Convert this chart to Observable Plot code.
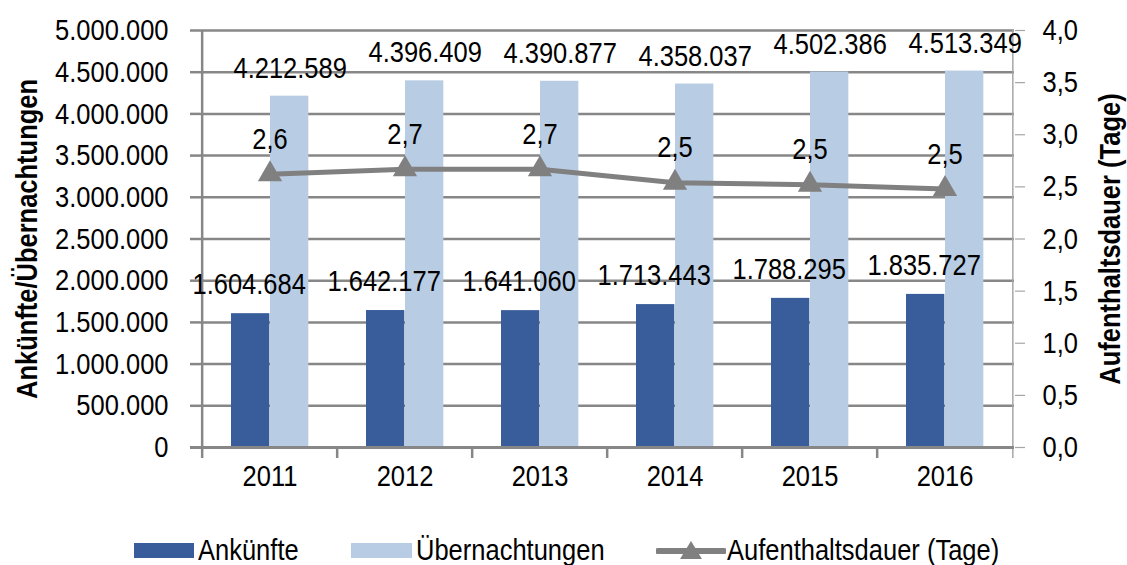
<!DOCTYPE html>
<html><head><meta charset="utf-8">
<script src="https://cdn.jsdelivr.net/npm/d3@7"></script>
<script src="https://cdn.jsdelivr.net/npm/@observablehq/plot@0.6"></script>
<style>
body{margin:0;background:#fff;font-family:"Liberation Sans",Arial,sans-serif;color:#000;}
#legend{position:relative;width:1127px;height:45px;font-size:30px;}
#legend .sw{position:absolute;top:23px;height:15px;}
#legend .tx{position:absolute;top:12px;line-height:36px;white-space:nowrap;transform:scaleX(0.85);transform-origin:0 50%;}
</style></head><body>
<div id="chart"></div>
<div id="legend"></div>
<script>
const years = ["2011", "2012", "2013", "2014", "2015", "2016"];
const ankuenfte = [1604684, 1642177, 1641060, 1713443, 1788295, 1835727];
const uebernachtungen = [4212589, 4396409, 4390877, 4358037, 4502386, 4513349];
const dauer = [2.62, 2.67, 2.67, 2.54, 2.52, 2.48];
const dauerLabels = ["2,6", "2,7", "2,7", "2,5", "2,5", "2,5"];
const leftTicks = [0, 500000, 1000000, 1500000, 2000000, 2500000, 3000000, 3500000, 4000000, 4500000, 5000000];
const rightTicks = [0, 0.5, 1.0, 1.5, 2.0, 2.5, 3.0, 3.5, 4.0];
const seriesNames = ["Ankünfte", "Übernachtungen", "Aufenthaltsdauer (Tage)"];
const yTitleLeft = "Ankünfte/Übernachtungen";
const yTitleRight = "Aufenthaltsdauer (Tage)";

const darkBlue = "#385D9A", lightBlue = "#B8CCE4", lineGray = "#808080", gridGray = "#878787";
const ratio = 5000000 / 4;
const fmt = n => d3.format(",")(n).replace(/,/g, ".");
const W = 1127, H = 520, mL = 200, mR = 113, mT = 30, mB = 73;
const bw = (W - mL - mR) / years.length;

const rows = years.map((y, i) => ({year: y, a: ankuenfte[i], u: uebernachtungen[i], d: dauer[i] * ratio, dl: dauerLabels[i]}));

const plot = Plot.plot({
  width: W, height: H,
  marginLeft: mL, marginRight: mR, marginTop: mT, marginBottom: mB,
  style: {fontFamily: '"Liberation Sans",Arial,sans-serif', fontSize: "30px", color: "#000", background: "#fff", overflow: "visible"},
  x: {domain: years, padding: 0, axis: null},
  y: {domain: [0, 5000000], axis: null},
  marks: [
    Plot.gridY(leftTicks, {stroke: gridGray, strokeOpacity: 1, strokeWidth: 2.5}),
    Plot.axisY(leftTicks, {anchor: "left", tickSize: 10, tickPadding: 22, tickFormat: fmt, stroke: gridGray, strokeWidth: 2.5, fontSize: 30, fill: "#000"}),
    Plot.axisY(rightTicks.map(v => v * ratio), {anchor: "right", tickSize: 10, tickPadding: 18, tickFormat: d => (d / ratio).toFixed(1).replace(".", ","), stroke: "#A6A6A6", strokeWidth: 1.2, fontSize: 30, fill: "#000"}),
    Plot.ruleX([years[0]], {dx: -bw / 2, insetBottom: -11, stroke: gridGray, strokeWidth: 2.5}),
    Plot.ruleX([years[years.length - 1]], {dx: bw / 2, insetBottom: -11, stroke: "#A6A6A6", strokeWidth: 1.5}),
    Plot.ruleX(years.slice(1), {dx: -bw / 2, y1: 0, y2: 0, insetBottom: -11, stroke: gridGray, strokeWidth: 2.5}),
    Plot.barY(rows, {x: "year", y: "a", fill: darkBlue, insetLeft: 29, insetRight: bw - 68}),
    Plot.barY(rows, {x: "year", y: "u", fill: lightBlue, insetLeft: 68, insetRight: bw - 107, ariaLabel: "ueb-bars"}),
    Plot.ruleY([0], {stroke: gridGray, strokeWidth: 3, insetLeft: -10}),
    Plot.line(rows, {x: "year", y: "d", stroke: lineGray, strokeWidth: 5}),
    Plot.dot(rows, {x: "year", y: "d", symbol: "triangle", r: 9, fill: lineGray, stroke: null}),
    Plot.text(rows, {x: "year", y: "a", text: d => fmt(d.a), dx: 47 - bw / 2, dy: -29, fontSize: 30, fill: "#000"}),
    Plot.text(rows, {x: "year", y: "u", text: d => fmt(d.u), dx: 88 - bw / 2, dy: -28, fontSize: 30, fill: "#000"}),
    Plot.text(rows, {x: "year", y: "d", text: "dl", dy: -35, fontSize: 30, fill: "#000"}),
    Plot.text(years, {x: d => d, frameAnchor: "bottom", dy: 38, fontSize: 30, fill: "#000"}),
    Plot.text([yTitleLeft], {frameAnchor: "left", textAnchor: "middle", lineAnchor: "middle", rotate: -90, dx: -173, dy: 0, fontSize: 30, fontWeight: "bold", fill: "#000", ariaLabel: "ytitle"}),
    Plot.text([yTitleRight], {frameAnchor: "right", textAnchor: "middle", lineAnchor: "middle", rotate: -90, dx: 96, dy: 0, fontSize: 30, fontWeight: "bold", fill: "#000", ariaLabel: "ytitle"})
  ]
});
document.getElementById("chart").appendChild(plot);
d3.select(plot).selectAll('g[aria-label="ueb-bars"]').style("filter", "drop-shadow(4px 1px 3px rgba(0,0,0,0.45))");

// compress text horizontally (Arial Narrow look) around its own anchor
d3.select(plot).selectAll("text").each(function () {
  const k = this.closest('g[aria-label="ytitle"]') ? 0.88 : 0.85;
  const t = this.getAttribute("transform");
  if (t) {
    this.setAttribute("transform", `${t} scale(${k},1)`);
  } else {
    let x = parseFloat(this.getAttribute("x"));
    if (!isFinite(x)) x = 0;
    this.setAttribute("transform", `translate(${x},0) scale(${k},1) translate(${-x},0)`);
  }
});

const lg = document.getElementById("legend");
lg.innerHTML = `
<div class="sw" style="left:134px;width:60px;background:${darkBlue}"></div>
<div class="tx" style="left:198px">${seriesNames[0]}</div>
<div class="sw" style="left:351px;width:61px;background:${lightBlue}"></div>
<div class="tx" style="left:416px">${seriesNames[1]}</div>
<svg style="position:absolute;left:656px;top:18px" width="70" height="26"><line x1="2" y1="13" x2="68" y2="13" stroke="${lineGray}" stroke-width="6" stroke-linecap="round"/><path d="M35,3 L46,21 L24,21 Z" fill="${lineGray}"/></svg>
<div class="tx" style="left:727px">${seriesNames[2]}</div>`;
</script>
</body></html>
